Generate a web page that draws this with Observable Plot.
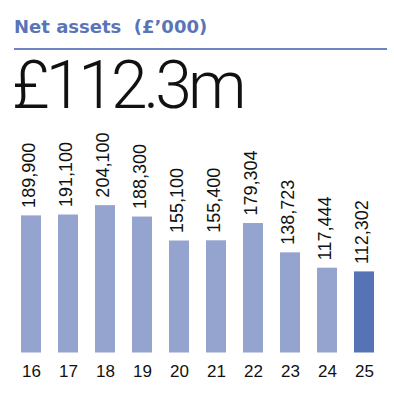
<!DOCTYPE html>
<html>
<head>
<meta charset="utf-8">
<script src="https://cdn.jsdelivr.net/npm/d3@7"></script>
<script src="https://cdn.jsdelivr.net/npm/@observablehq/plot@0.6"></script>
<style>
  html, body { margin: 0; padding: 0; background: #fff; }
  #wrap { position: relative; width: 394px; height: 395px; overflow: hidden; }
  #title { position: absolute; left: 14px; top: 18px; font-family: "DejaVu Sans", sans-serif; font-weight: bold; font-size: 18px; color: #5a74b8; white-space: pre; line-height: 1; }
  #rule { position: absolute; left: 14px; top: 48px; width: 373px; height: 2px; background: #6e85c3; }
  #big { position: absolute; left: 12px; top: 53px; font-family: Roboto, "Liberation Sans", sans-serif; font-weight: 300; font-size: 66px; letter-spacing: -4px; color: #111; line-height: 1; white-space: pre; }
  #chart { position: absolute; left: 0; top: 120px; }
</style>
</head>
<body>
<div id="wrap">
  <div id="title">Net assets  (£’000)</div>
  <div id="rule"></div>
  <div id="big">£112.3m</div>
  <div id="chart"></div>
</div>
<script>
const years = ["16", "17", "18", "19", "20", "21", "22", "23", "24", "25"];
const values = [189900, 191100, 204100, 188300, 155100, 155400, 179304, 138723, 117444, 112302];
const highlight = ["25"];

const data = years.map((y, i) => ({year: y, value: values[i], hl: highlight.includes(y)}));

const chart = Plot.plot({
  width: 394,
  height: 275,
  marginLeft: 2,
  marginRight: 2,
  marginTop: 0,
  marginBottom: 42.5,
  style: {fontFamily: "'Liberation Sans', Arial, sans-serif", background: "transparent", overflow: "visible"},
  x: {domain: years, padding: 0.46, label: null, tickSize: 0, tickPadding: 12},
  y: {domain: [0, 322000], axis: null},
  marks: [
    Plot.barY(data, {x: "year", y: "value", fill: d => d.hl ? "#5673b6" : "#95a3cf"}),
    Plot.text(data, {
      x: "year", y: "value",
      text: d => d3.format(",")(d.value),
      rotate: -90, textAnchor: "start", lineAnchor: "middle",
      dy: -8, dx: -2,
      fontSize: 18, fill: "#111"
    }),
    Plot.axisX({tickSize: 0, tickPadding: 12, fontSize: 17, label: null, color: "#111"})
  ]
});
document.getElementById("chart").appendChild(chart);
</script>
</body>
</html>
